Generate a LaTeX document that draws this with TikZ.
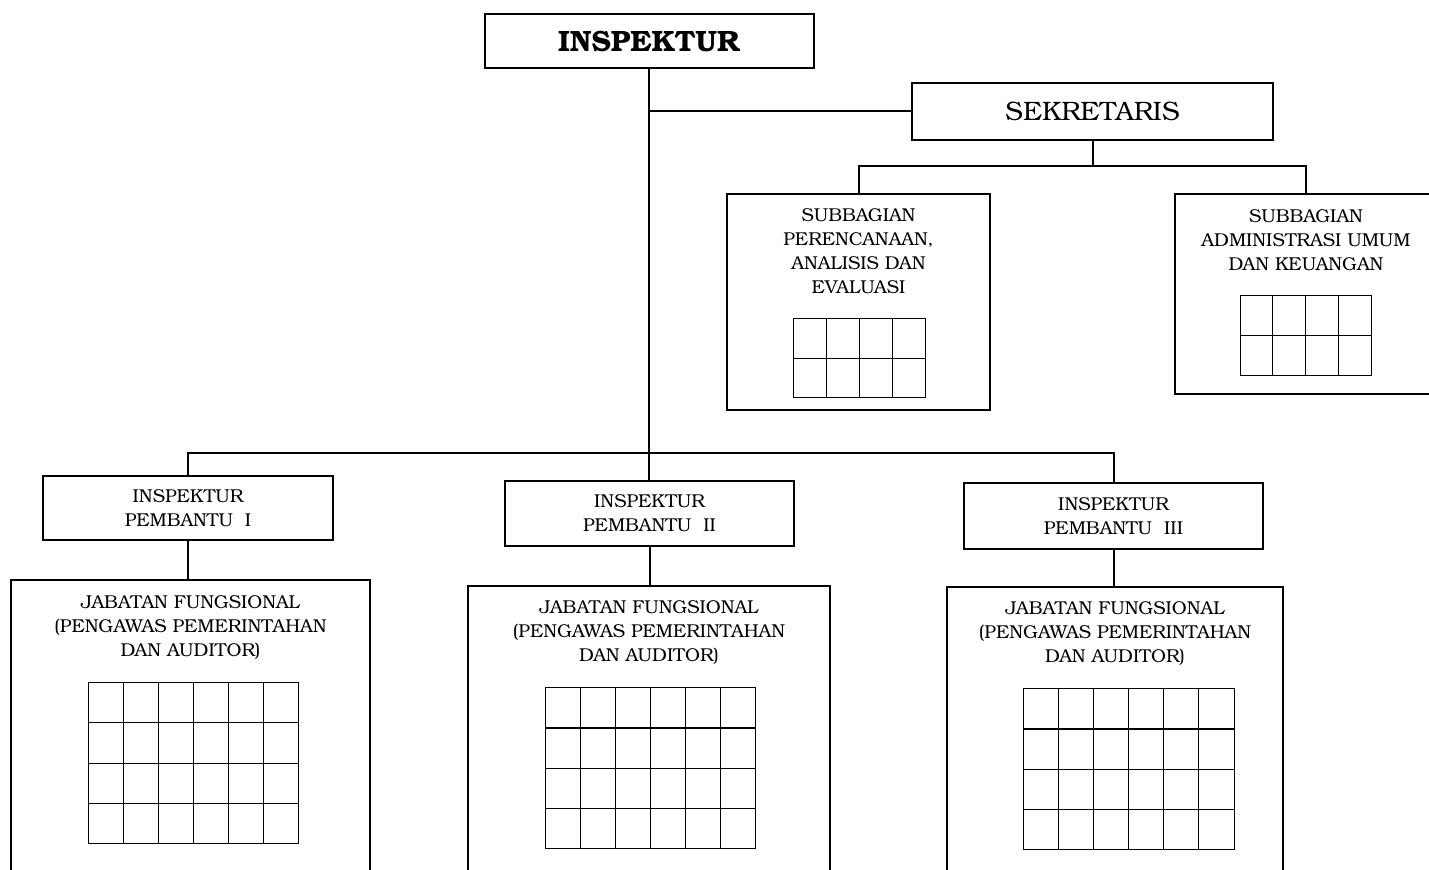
\documentclass[tikz,border=0pt]{standalone}
\usepackage{fontspec}
\setmainfont{TeX Gyre Bonum}
\usepackage{tikz}

\newcommand{\cellgrid}[6]{%
  \draw[cell] (#1,#2) rectangle (#3,#4);
  \pgfmathtruncatemacro{\nc}{#5-1}\pgfmathtruncatemacro{\nr}{#6-1}
  \foreach \i in {1,...,\nc}{\draw[cell] ({#1+\i*(#3-#1)/#5},#2) -- ({#1+\i*(#3-#1)/#5},#4);}
  \foreach \j in {1,...,\nr}{\draw[cell] (#1,{#2+\j*(#4-#2)/#6}) -- (#3,{#2+\j*(#4-#2)/#6});}
}

\begin{document}
\begin{tikzpicture}[x=0.5pt, y=-0.5pt,
  box/.style={draw, line width=1pt, inner sep=0pt, align=center},
  lbl/.style={inner sep=0pt, align=center, font=\fontsize{9.3}{12}\selectfont},
  cell/.style={line width=0.5pt},
  link/.style={line width=1pt}]
\useasboundingbox (0,0) rectangle (1429,870);
\clip (0,0) rectangle (1429,870);
%Top
\node[box, minimum width=164.5pt, minimum height=27pt, font=\fontsize{14.7}{16}\selectfont\bfseries] (insp) at (649,41) {INSPEKTUR};
\node[box, minimum width=180.5pt, minimum height=28.5pt, font=\fontsize{13.3}{15}\selectfont] (sek) at (1092.5,111.5) {SEKRETARIS};
%Subbagian
\node[box, minimum width=131.5pt, minimum height=108pt] (sub1) at (858.5,302) {};
\node[box, minimum width=131pt, minimum height=100pt] (sub2) at (1306,294) {};
\node[lbl] (sub1txt) at (858.5,251) {SUBBAGIAN\\PERENCANAAN,\\ANALISIS DAN\\EVALUASI};
\node[lbl] (sub2txt) at (1306,240) {SUBBAGIAN\\ADMINISTRASI UMUM\\DAN KEUANGAN};
\cellgrid{793}{319}{925}{398}{4}{2}
\cellgrid{1240}{296}{1371}{376}{4}{2}
%Inspektur Pembantu
\node[box, lbl, draw, minimum width=145pt, minimum height=32pt] (ip1) at (188,508) {INSPEKTUR\\PEMBANTU\ \ I};
\node[box, lbl, draw, minimum width=144.5pt, minimum height=32.5pt] (ip2) at (649.5,513.5) {INSPEKTUR\\PEMBANTU\ \ II};
\node[box, lbl, draw, minimum width=149.5pt, minimum height=33pt] (ip3) at (1113.5,516) {INSPEKTUR\\PEMBANTU\ \ III};
%Jabatan Fungsional
\node[box, minimum width=179.5pt, minimum height=160pt] (jf1) at (190.5,740) {};
\node[box, minimum width=181pt, minimum height=157pt] (jf2) at (649,743) {};
\node[box, minimum width=168pt, minimum height=156.5pt] (jf3) at (1115,743.5) {};
\node[lbl] (jf1txt) at (190.5,627) {JABATAN FUNGSIONAL\\(PENGAWAS PEMERINTAHAN\\DAN AUDITOR)};
\node[lbl] (jf2txt) at (649,632) {JABATAN FUNGSIONAL\\(PENGAWAS PEMERINTAHAN\\DAN AUDITOR)};
\node[lbl] (jf3txt) at (1115,633) {JABATAN FUNGSIONAL\\(PENGAWAS PEMERINTAHAN\\DAN AUDITOR)};
\cellgrid{88}{683}{298}{843}{6}{4}
\cellgrid{545}{688}{755}{848}{6}{4}
\cellgrid{1023}{689}{1234}{849}{6}{4}
%Lines
\coordinate (bar) at (649,453);
\coordinate (sekbar) at (1092.5,166);
\draw[link] (insp.south) -- (bar);
\draw[link] (insp.south |- sek.west) -- (sek.west);
\draw[link] (sek.south) -- (sekbar);
\draw[link] (sub1.north) |- (sekbar) -| (sub2.north);
\draw[link] (ip1.north) |- (bar) -| (ip3.north);
\draw[link] (bar) -- (bar |- ip2.north);
\draw[link] (ip1.south) -- (ip1.south |- jf1.north);
\draw[link] (ip2.south) -- (ip2.south |- jf2.north);
\draw[link] (ip3.south) -- (ip3.south |- jf3.north);
\end{tikzpicture}
\end{document}
